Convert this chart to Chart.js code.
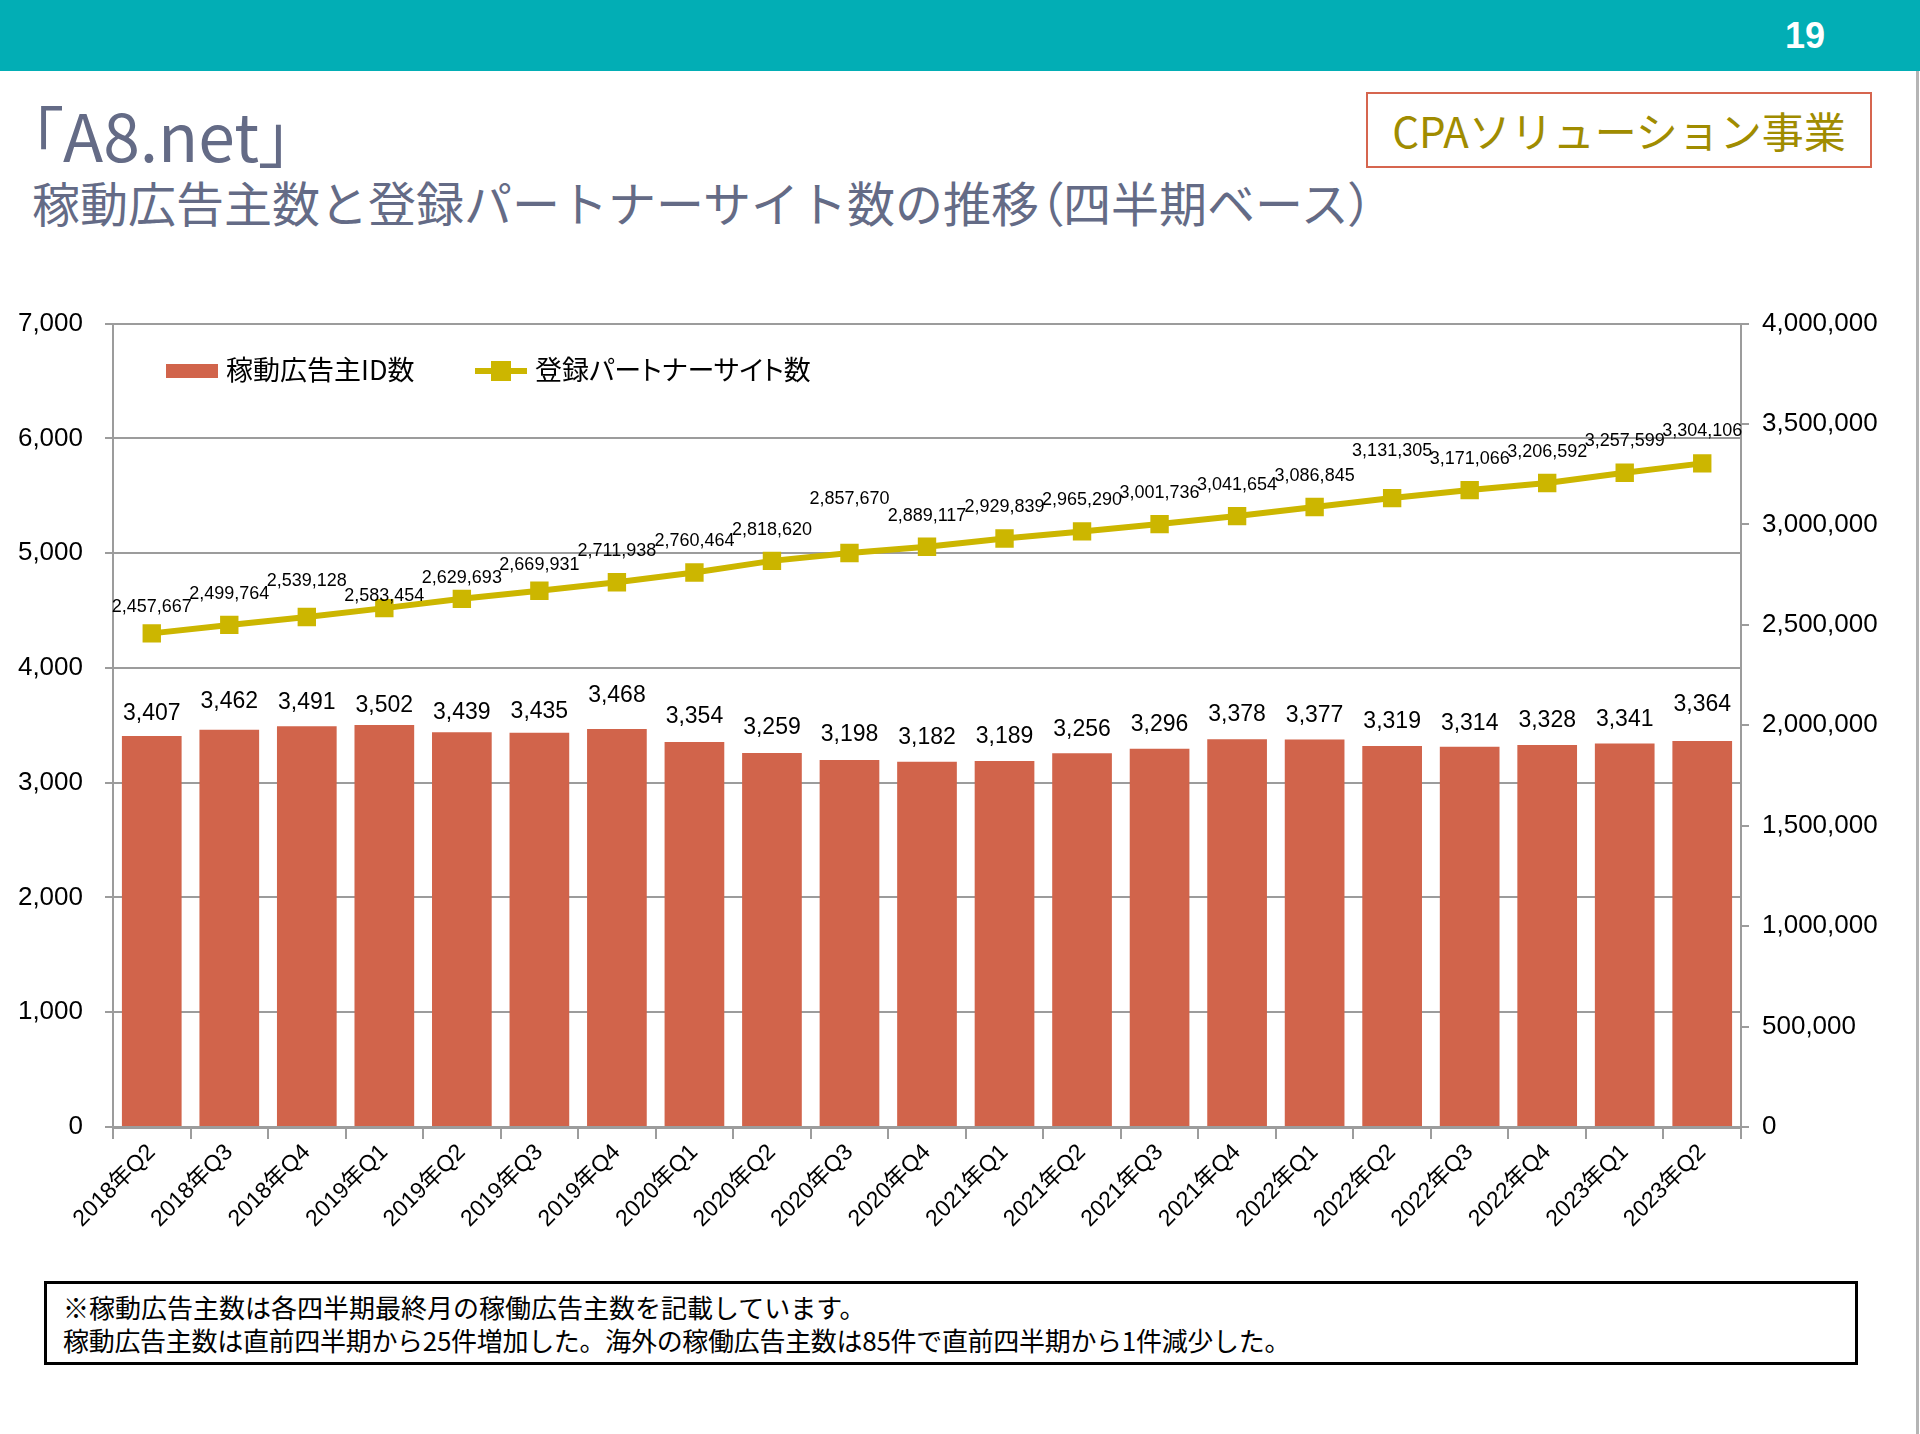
<!DOCTYPE html>
<html lang="ja">
<head>
<meta charset="utf-8">
<script src="https://cdn.jsdelivr.net/npm/chart.js@4/dist/chart.umd.min.js"></script>
<style>
    html, body { margin: 0; padding: 0; }
    body {
        width: 1920px; height: 1434px; position: relative; overflow: hidden;
        background: #fff; font-family: "Liberation Sans", "Noto Sans CJK JP", sans-serif;
    }
    .band { position: absolute; left: 0; top: 0; width: 1920px; height: 71px; background: #02AEB5; }
    .page { position: absolute; left: 1770px; top: 14px; width: 70px; text-align: center;
        color: #fff; font-weight: bold; font-size: 36px; line-height: 44px; }
    .edge { position: absolute; left: 1916px; top: 71px; width: 3px; height: 1363px; background: #b5b5b5; }
    .title { position: absolute; left: 30px; top: 96px; color: #646B86;
        font-family: "Noto Sans CJK JP", sans-serif; font-size: 66px; line-height: 74px;
        font-feature-settings: "palt"; }
    .sub { position: absolute; left: 32px; top: 173px; color: #646B86; white-space: nowrap;
        font-family: "Noto Sans CJK JP", sans-serif; font-size: 48px; line-height: 56px; }
    .sub .p { font-feature-settings: "palt"; }
    .badge { position: absolute; left: 1366px; top: 92px; width: 502px; height: 72px;
        border: 2px solid #D6654F; color: #A08C00; text-align: center;
        font-family: "Noto Sans CJK JP", sans-serif; font-size: 42px; line-height: 72px; }
    #wrap { position: absolute; left: 0; top: 286px; width: 1920px; height: 974px; }
    .legend { position: absolute; top: 349px; height: 40px; font-family: "Noto Sans CJK JP", sans-serif;
        font-size: 27px; line-height: 40px; color: #000; font-feature-settings: "palt"; }
    .note { position: absolute; left: 44px; top: 1281px; width: 1808px; height: 78px;
        border: 3px solid #000; font-family: "Noto Sans CJK JP", sans-serif; font-size: 26px;
        line-height: 32px; color: #000; padding: 0; }
    .note div { position: absolute; left: 16px; white-space: nowrap; }
</style>
</head>
<body>
<div class="band"></div>
<div class="page">19</div>
<div class="edge"></div>
<div class="title">「A8.net」</div>
<div class="sub">稼動広告主数と登録パートナーサイト数の推移<span class="p">（</span>四半期ベース<span class="p">）</span></div>
<div class="badge">CPAソリューション事業</div>

<div id="wrap"><canvas id="chart"></canvas></div>

<div class="legend" style="left:166px;">
    <span style="display:inline-block;width:52px;height:14px;background:#D1644B;vertical-align:middle;margin-top:-4px;"></span>
    <span style="margin-left:2px;">稼動広告主ID数</span>
</div>
<div class="legend" style="left:475px;">
    <span style="display:inline-block;position:relative;width:52px;height:20px;vertical-align:middle;margin-top:-4px;">
        <span style="position:absolute;left:0;top:7px;width:52px;height:6px;background:#CCB600;"></span>
        <span style="position:absolute;left:16px;top:0;width:20px;height:20px;background:#CCB600;"></span>
    </span>
    <span style="margin-left:2px;">登録パートナーサイト数</span>
</div>

<div class="note">
    <div style="top:7px;">※稼動広告主数は各四半期最終月の稼働広告主数を記載しています。</div>
    <div style="top:40px;letter-spacing:-0.3px;">稼動広告主数は直前四半期から25件増加した。海外の稼働広告主数は85件で直前四半期から1件減少した。</div>
</div>

<script>
// quarters shown on the x axis
const quarters = [
    '2018年Q2', '2018年Q3', '2018年Q4', '2019年Q1', '2019年Q2', '2019年Q3', '2019年Q4',
    '2020年Q1', '2020年Q2', '2020年Q3', '2020年Q4', '2021年Q1', '2021年Q2', '2021年Q3',
    '2021年Q4', '2022年Q1', '2022年Q2', '2022年Q3', '2022年Q4', '2023年Q1', '2023年Q2'
];

// 稼動広告主ID数 (left axis)
const advertisers = [
    3407, 3462, 3491, 3502, 3439, 3435, 3468,
    3354, 3259, 3198, 3182, 3189, 3256, 3296,
    3378, 3377, 3319, 3314, 3328, 3341, 3364
];

// 登録パートナーサイト数 (right axis)
const partnerSites = [
    2457667, 2499764, 2539128, 2583454, 2629693, 2669931, 2711938,
    2760464, 2818620, 2857670, 2889117, 2929839, 2965290, 3001736,
    3041654, 3086845, 3131305, 3171066, 3206592, 3257599, 3304106
];

// axis ticks
const leftTicks = [0, 1000, 2000, 3000, 4000, 5000, 6000, 7000];
const rightTicks = [0, 500000, 1000000, 1500000, 2000000, 2500000, 3000000, 3500000, 4000000];

// how far above each bar / marker its label sits (px), as placed in the original slide
const barLabelLift = [22, 28, 24, 19, 20, 21, 33, 25, 25, 25, 24, 24, 24, 24, 25, 24, 24, 23, 24, 24, 36];
const siteLabelLift = [26, 31, 36, 12, 21, 26, 31, 32, 31, 54, 31, 32, 31, 31, 31, 31, 47, 31, 31, 32, 32];

const BAR_COLOR = '#D1644B';
const LINE_COLOR = '#CCB600';
const GRID_COLOR = '#9c9c9c';
const FONT = '"Liberation Sans", "Noto Sans CJK JP", sans-serif';

const fmt = v => v.toLocaleString('en-US');

const valueLabels = {
    id: 'valueLabels',
    afterDatasetsDraw(chart) {
        const ctx = chart.ctx;
        ctx.save();
        ctx.fillStyle = '#000';
        ctx.textAlign = 'center';
        ctx.textBaseline = 'middle';

        const barMeta = chart.getDatasetMeta(1);
        ctx.font = '23px ' + FONT;
        barMeta.data.forEach((bar, i) => {
            ctx.fillText(fmt(advertisers[i]), bar.x, bar.y - barLabelLift[i]);
        });

        const lineMeta = chart.getDatasetMeta(0);
        ctx.font = '18px ' + FONT;
        lineMeta.data.forEach((pt, i) => {
            ctx.fillText(fmt(partnerSites[i]), pt.x, pt.y - siteLabelLift[i]);
        });
        ctx.restore();
    }
};

new Chart(document.getElementById('chart'), {
    type: 'bar',
    data: {
        labels: quarters,
        datasets: [
            {
                type: 'line',
                label: '登録パートナーサイト数',
                data: partnerSites,
                yAxisID: 'y1',
                borderColor: LINE_COLOR,
                backgroundColor: LINE_COLOR,
                borderWidth: 6,
                pointStyle: 'rect',
                pointRadius: 13,
                pointHoverRadius: 13,
                pointBorderWidth: 0,
                tension: 0,
                order: 0
            },
            {
                label: '稼動広告主ID数',
                data: advertisers,
                yAxisID: 'y',
                backgroundColor: BAR_COLOR,
                borderWidth: 0,
                barPercentage: 0.77,
                categoryPercentage: 1.0,
                order: 1
            }
        ]
    },
    options: {
        responsive: true,
        maintainAspectRatio: false,
        animation: false,
        layout: { padding: { top: 10, left: 0, right: 0, bottom: 0 } },
        plugins: {
            legend: { display: false },
            tooltip: { enabled: false }
        },
        scales: {
            x: {
                offset: true,
                grid: {
                    offset: true,
                    drawOnChartArea: false,
                    drawTicks: true,
                    tickLength: 12,
                    color: GRID_COLOR,
                    lineWidth: 2
                },
                border: { display: true, color: GRID_COLOR, width: 3 },
                ticks: {
                    autoSkip: false,
                    minRotation: 45,
                    maxRotation: 45,
                    padding: 0,
                    color: '#000',
                    font: { family: FONT, size: 23 }
                },
                afterFit: function (scale) { scale.height = 133; }
            },
            y: {
                position: 'left',
                min: 0,
                max: 7000,
                afterBuildTicks: function (scale) { scale.ticks = leftTicks.map(v => ({ value: v })); },
                grid: {
                    color: GRID_COLOR,
                    lineWidth: 2,
                    drawTicks: true,
                    tickLength: 8
                },
                border: { display: true, color: GRID_COLOR, width: 2 },
                ticks: {
                    padding: 22,
                    color: '#000',
                    font: { family: FONT, size: 26 },
                    callback: v => fmt(v)
                },
                afterFit: function (scale) { scale.width = 113; }
            },
            y1: {
                position: 'right',
                min: 0,
                max: 4000000,
                afterBuildTicks: function (scale) { scale.ticks = rightTicks.map(v => ({ value: v })); },
                grid: {
                    drawOnChartArea: false,
                    color: GRID_COLOR,
                    lineWidth: 2,
                    drawTicks: true,
                    tickLength: 8
                },
                border: { display: true, color: GRID_COLOR, width: 2 },
                ticks: {
                    padding: 13,
                    color: '#000',
                    font: { family: FONT, size: 26 },
                    callback: v => fmt(v)
                },
                afterFit: function (scale) { scale.width = 179; }
            }
        }
    },
    plugins: [valueLabels]
});
</script>
</body>
</html>
